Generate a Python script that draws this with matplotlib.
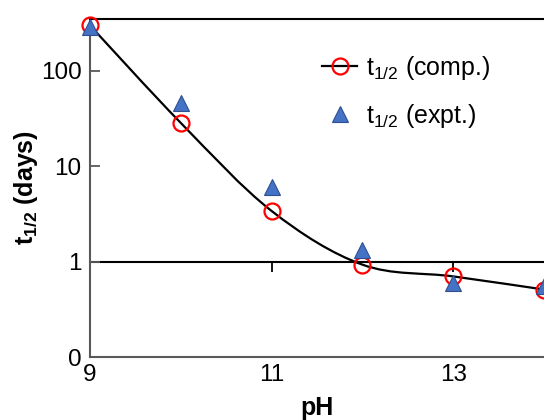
import matplotlib
matplotlib.use("Agg")
import matplotlib.pyplot as plt
from matplotlib.path import Path
from matplotlib.patches import PathPatch
from matplotlib.lines import Line2D
import numpy as np

# -----------------------------
# Data
# -----------------------------
ph = [9, 10, 11, 12, 13, 14]
t_half_comp = [300, 28.5, 3.4, 0.93, 0.70, 0.51]
t_half_expt = [290, 46, 6.0, 1.34, 0.60, 0.55]

x_ticks = [9, 11, 13]
y_ticks = [0.1, 1, 10, 100]
y_tick_labels = ["0", "1", "10", "100"]

plt.rcParams["font.family"] = ["Liberation Sans", "DejaVu Sans"]
plt.rcParams["mathtext.fontset"] = "custom"
plt.rcParams["mathtext.rm"] = "Liberation Sans"
plt.rcParams["mathtext.bf"] = "Liberation Sans:bold"

fig = plt.figure(figsize=(5.44, 4.2), dpi=100)
ax = fig.add_axes([0.1654, 0.15, 0.8346, 0.805])

ax.set_yscale("log")
ax.set_xlim(9, 14)
ax.set_ylim(0.1, 351)


# Excel-style smoothed line through the computed points (built in x / log10(y) space)
def smooth_path(xs, ys):
    pts = np.column_stack([xs, np.log10(ys)])
    verts = [pts[0]]
    codes = [Path.MOVETO]
    n = len(pts)
    for i in range(n - 1):
        p0 = pts[max(i - 1, 0)]
        p1 = pts[i]
        p2 = pts[i + 1]
        p3 = pts[min(i + 2, n - 1)]
        c1 = p1 + (p2 - p0) / 6.0
        c2 = p2 - (p3 - p1) / 6.0
        verts += [c1, c2, p2]
        codes += [Path.CURVE4] * 3
    verts = np.array(verts)
    verts[:, 1] = 10 ** verts[:, 1]
    return Path(verts, codes)


curve = PathPatch(smooth_path(ph, t_half_comp), facecolor="none",
                  edgecolor="black", lw=1.6, zorder=2)
ax.add_patch(curve)

ax.plot(ph, t_half_comp, ls="none", marker="o", ms=11.5, mfc="none",
        mec="#ff0000", mew=1.6, zorder=3, clip_on=False)
ax.plot(ph, t_half_expt, ls="none", marker="^", ms=11.5, mfc="#4472c4",
        mec="#2f4f8f", mew=0.8, zorder=4, clip_on=False)

# horizontal axis crossing at y = 1
ax.axhline(1, color="black", lw=1.5, zorder=1)
ax.plot(x_ticks, [1] * len(x_ticks), ls="none", marker=3, ms=7,
        mew=1.3, color="black", zorder=1)

# spines
for side in ["left", "bottom"]:
    ax.spines[side].set_color("#595959")
    ax.spines[side].set_linewidth(1.5)
ax.spines["top"].set_color("black")
ax.spines["top"].set_linewidth(1.5)
ax.spines["right"].set_visible(False)

ax.set_yticks(y_ticks)
ax.set_yticklabels(y_tick_labels)
ax.yaxis.set_minor_locator(matplotlib.ticker.NullLocator())
ax.tick_params(axis="y", direction="in", length=7, width=1.3,
               color="#595959", labelsize=17.5, pad=6)

ax.set_xticks(x_ticks)
ax.set_xticklabels([str(v) for v in x_ticks])
ax.tick_params(axis="x", length=0, labelsize=17.5, pad=5)

ax.set_xlabel("pH", fontsize=18, fontweight="bold", labelpad=7)
ax.set_ylabel(r"$\mathbf{t}_{\mathbf{1/2}}$ (days)", fontsize=18,
              fontweight="bold", labelpad=1)

handles = [
    Line2D([], [], color="black", lw=1.6, marker="o", ms=11.5, mfc="none",
           mec="#ff0000", mew=1.6),
    Line2D([], [], ls="none", marker="^", ms=11.5, mfc="#4472c4",
           mec="#2f4f8f", mew=0.8),
]
labels = [r"t$_{1/2}$ (comp.)", r"t$_{1/2}$ (expt.)"]
fig.legend(handles, labels, loc="upper left", bbox_to_anchor=(0.592, 0.871),
           frameon=False, fontsize=18, handlelength=1.4, handletextpad=0.36,
           labelspacing=0.8, borderpad=0, borderaxespad=0)

fig.savefig("out.png", dpi=100)
